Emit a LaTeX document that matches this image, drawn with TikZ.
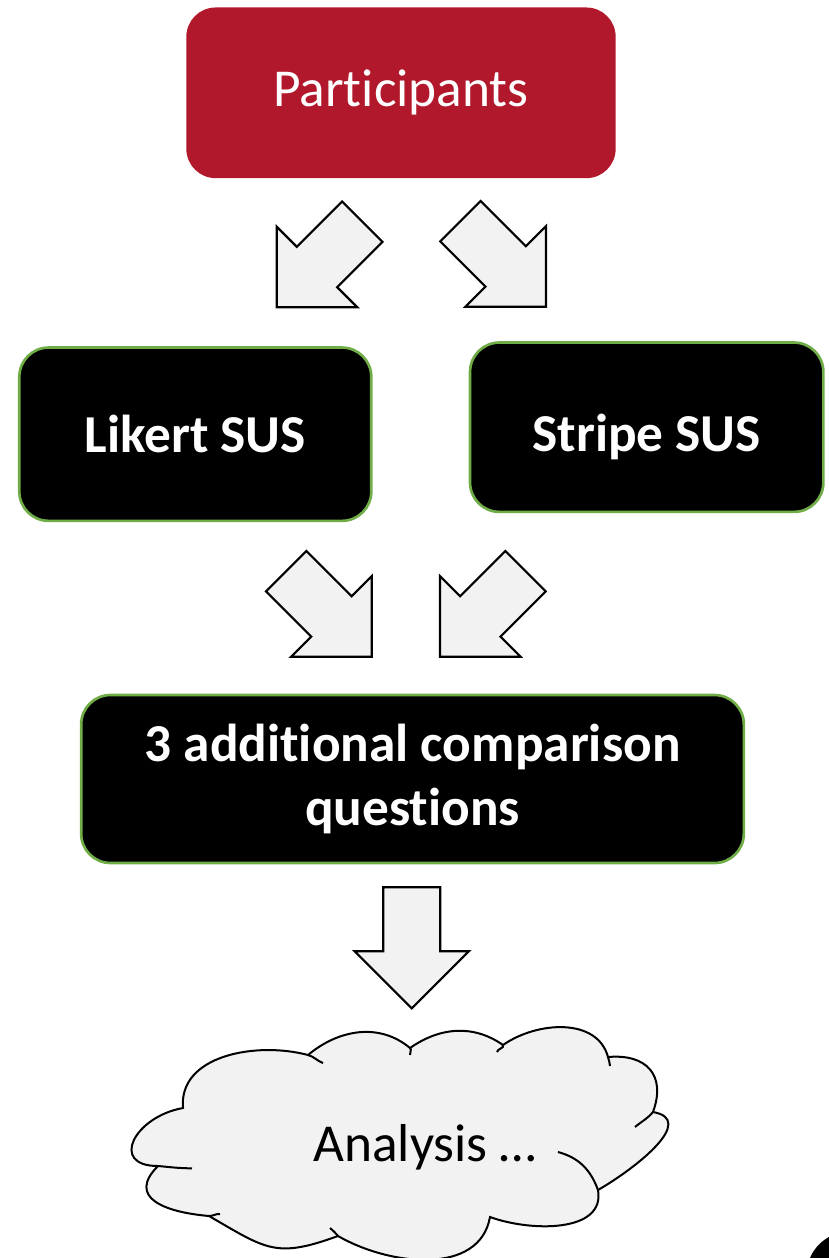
\documentclass[tikz,border=0pt]{standalone}
\usepackage{fontspec}
\setmainfont[Ligatures={NoCommon,NoContextual}]{Carlito}

\definecolor{teilrot}{HTML}{B2182B}
\definecolor{randgruen}{HTML}{70AD47}
\definecolor{pfeilgrau}{HTML}{F2F2F2}

\begin{document}
\begin{tikzpicture}[x=0.75pt,y=0.75pt,
	schrift/.style={font=\fontsize{40}{47.5}\selectfont},
	kasten/.style={schrift,rectangle,fill=black,draw=randgruen,line width=2pt,
		rounded corners=22pt,text=white,align=center,font=\fontsize{40}{47.5}\selectfont\bfseries},
	pfeil/.style={fill=pfeilgrau,draw=black,line width=1.6pt,line join=miter},
	wolke/.style={fill=pfeilgrau,draw=black,line width=1.5pt}]

\useasboundingbox (0,0) rectangle (829,-1258);

% block arrow: tip at #1, turned by #2
\def\pfeil#1#2{
\begin{scope}[shift={#1},rotate=#2]
	\draw[pfeil] (0,0)--(-57,57)--(-28.5,57)--(-28.5,121)--
		(28.5,121)--(28.5,57)--(57,57)--cycle;
\end{scope}
}

% boxes
\node[schrift,rectangle,fill=teilrot,rounded corners=22pt,text=white,
	minimum width=322pt,minimum height=128pt] (teil) at (401,-92.8) {Participants};
\node[kasten,minimum width=264pt,minimum height=130pt] (likert) at (195.3,-434.2) {Likert SUS};
\node[kasten,minimum width=265pt,minimum height=127pt,text height=36pt,text depth=0pt]
	(stripe) at (646.7,-427.2) {Stripe SUS};
\node[kasten,minimum width=497pt,minimum height=126pt] (fragen) at (412.5,-779)
	{3 additional comparison\\questions};

% arrows
\pfeil{(276.7,-307.3)}{-45}
\pfeil{(546,-306.7)}{45}
\pfeil{(371.7,-656.7)}{45}
\pfeil{(440,-656.7)}{-45}
\pfeil{(411.7,-1008.3)}{0}

% cloud
\coordinate (w1) at (183,-1108);
\coordinate (w2) at (308,-1055);
\coordinate (w3) at (410,-1048);
\coordinate (w4) at (503,-1045);
\coordinate (w5) at (608,-1057);
\coordinate (w6) at (653,-1112);
\coordinate (w7) at (598,-1190);
\coordinate (w8) at (490,-1217);
\coordinate (w9) at (338,-1236);
\coordinate (w10) at (209,-1216);
\coordinate (w11) at (158,-1166);

\draw[wolke] (w1) to[out=95,in=165] (w2) to[out=40,in=140] (w3)
	to[out=35,in=145] (w4) to[out=35,in=105] (w5)
	to[out=5,in=70,looseness=1.4] (w6) to[out=-10,in=30,looseness=1.2] (w7)
	to[out=-80,in=-20] (w8) to[out=-100,in=-30] (w9)
	to[out=-160,in=-30,looseness=1.3] (w10) to[out=175,in=-135,looseness=1.6] (w11)
	to[out=180,in=190,looseness=2] (w1) -- cycle;

\draw[line width=1.5pt] (w2) to[out=-15,in=160] (323,-1063);
\draw[line width=1.5pt] (w3) to[out=-40,in=100] (410,-1055);
\draw[line width=1.5pt] (w4) to[out=-60,in=80] (497,-1052);
\draw[line width=1.5pt] (w5) to[out=-75,in=95] (610,-1066);
\draw[line width=1.5pt] (w6) to[out=-130,in=40] (635,-1127);
\draw[line width=1.5pt] (558,-1152) to[out=-15,in=110] (w7);
\draw[line width=1.5pt] (330,-1228) to[out=-40,in=130] (w9);
\draw[line width=1.5pt] (220,-1214) to[out=175,in=0] (w10);
\draw[line width=1.5pt] (w11) to[out=-5,in=180] (192,-1168.3);

\node[schrift] (analyse) at (425,-1147) {Analysis …};

% corner of the dark disc at the lower right
\begin{scope}
\clip (0,0) rectangle (829,-1258);
\fill[black] (850,-1275) circle[radius=43.5];
\end{scope}

\end{tikzpicture}
\end{document}
